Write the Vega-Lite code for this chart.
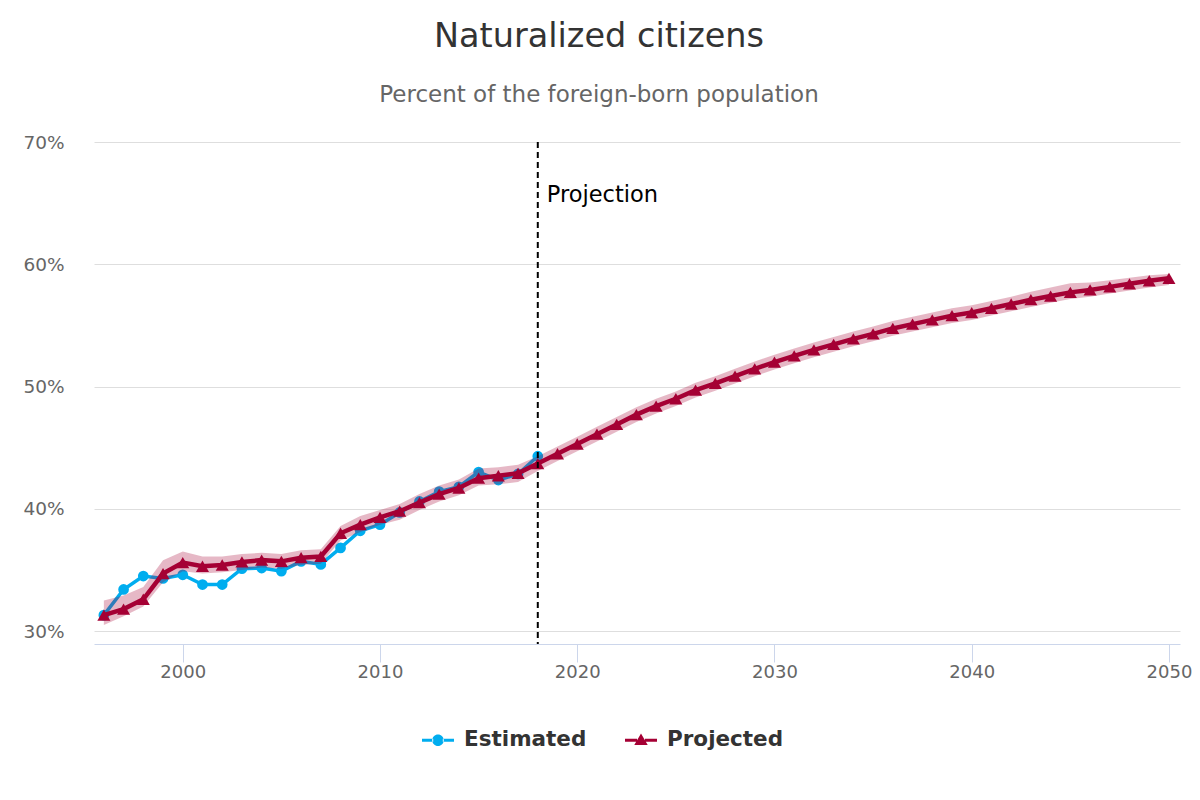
{
  "$schema": "https://vega.github.io/schema/vega-lite/v6.json",
  "width": 1086,
  "height": 502,
  "autosize": {"type": "none"},
  "padding": {"top": 142, "left": 94, "right": 20, "bottom": 156},
  "background": "white",
  "title": {
    "text": "Naturalized citizens",
    "subtitle": "Percent of the foreign-born population",
    "anchor": "middle",
    "dx": -38,
    "font": "DejaVu Sans",
    "fontSize": 33.5,
    "fontWeight": "normal",
    "color": "#333333",
    "subtitleFont": "DejaVu Sans",
    "subtitleFontSize": 23,
    "subtitleColor": "#666666",
    "subtitlePadding": 30,
    "offset": 25
  },
  "config": {
    "view": {"stroke": null},
    "font": "DejaVu Sans"
  },
  "datasets": {
    "main": [
      {"year": 1996, "series": "Estimated", "value": 31.3},
      {"year": 1997, "series": "Estimated", "value": 33.4},
      {"year": 1998, "series": "Estimated", "value": 34.5},
      {"year": 1999, "series": "Estimated", "value": 34.3},
      {"year": 2000, "series": "Estimated", "value": 34.6},
      {"year": 2001, "series": "Estimated", "value": 33.8},
      {"year": 2002, "series": "Estimated", "value": 33.8},
      {"year": 2003, "series": "Estimated", "value": 35.1},
      {"year": 2004, "series": "Estimated", "value": 35.15},
      {"year": 2005, "series": "Estimated", "value": 34.9},
      {"year": 2006, "series": "Estimated", "value": 35.7},
      {"year": 2007, "series": "Estimated", "value": 35.45},
      {"year": 2008, "series": "Estimated", "value": 36.8},
      {"year": 2009, "series": "Estimated", "value": 38.2},
      {"year": 2010, "series": "Estimated", "value": 38.7},
      {"year": 2011, "series": "Estimated", "value": 39.7},
      {"year": 2012, "series": "Estimated", "value": 40.6},
      {"year": 2013, "series": "Estimated", "value": 41.4},
      {"year": 2014, "series": "Estimated", "value": 41.8},
      {"year": 2015, "series": "Estimated", "value": 43.0},
      {"year": 2016, "series": "Estimated", "value": 42.35},
      {"year": 2017, "series": "Estimated", "value": 42.85},
      {"year": 2018, "series": "Estimated", "value": 44.3},
      {"year": 1996, "series": "Projected", "value": 31.3},
      {"year": 1997, "series": "Projected", "value": 31.8},
      {"year": 1998, "series": "Projected", "value": 32.6},
      {"year": 1999, "series": "Projected", "value": 34.7},
      {"year": 2000, "series": "Projected", "value": 35.6},
      {"year": 2001, "series": "Projected", "value": 35.3},
      {"year": 2002, "series": "Projected", "value": 35.4},
      {"year": 2003, "series": "Projected", "value": 35.65},
      {"year": 2004, "series": "Projected", "value": 35.8},
      {"year": 2005, "series": "Projected", "value": 35.7},
      {"year": 2006, "series": "Projected", "value": 36.0},
      {"year": 2007, "series": "Projected", "value": 36.1},
      {"year": 2008, "series": "Projected", "value": 38.0},
      {"year": 2009, "series": "Projected", "value": 38.7},
      {"year": 2010, "series": "Projected", "value": 39.3},
      {"year": 2011, "series": "Projected", "value": 39.8},
      {"year": 2012, "series": "Projected", "value": 40.5},
      {"year": 2013, "series": "Projected", "value": 41.2},
      {"year": 2014, "series": "Projected", "value": 41.7},
      {"year": 2015, "series": "Projected", "value": 42.5},
      {"year": 2016, "series": "Projected", "value": 42.7},
      {"year": 2017, "series": "Projected", "value": 42.9},
      {"year": 2018, "series": "Projected", "value": 43.7},
      {"year": 2019, "series": "Projected", "value": 44.5},
      {"year": 2020, "series": "Projected", "value": 45.3},
      {"year": 2021, "series": "Projected", "value": 46.1},
      {"year": 2022, "series": "Projected", "value": 46.9},
      {"year": 2023, "series": "Projected", "value": 47.7},
      {"year": 2024, "series": "Projected", "value": 48.4},
      {"year": 2025, "series": "Projected", "value": 49.0},
      {"year": 2026, "series": "Projected", "value": 49.7},
      {"year": 2027, "series": "Projected", "value": 50.25},
      {"year": 2028, "series": "Projected", "value": 50.85},
      {"year": 2029, "series": "Projected", "value": 51.45},
      {"year": 2030, "series": "Projected", "value": 52.0},
      {"year": 2031, "series": "Projected", "value": 52.5},
      {"year": 2032, "series": "Projected", "value": 53.0},
      {"year": 2033, "series": "Projected", "value": 53.45},
      {"year": 2034, "series": "Projected", "value": 53.9},
      {"year": 2035, "series": "Projected", "value": 54.3},
      {"year": 2036, "series": "Projected", "value": 54.75},
      {"year": 2037, "series": "Projected", "value": 55.1},
      {"year": 2038, "series": "Projected", "value": 55.45},
      {"year": 2039, "series": "Projected", "value": 55.8},
      {"year": 2040, "series": "Projected", "value": 56.05},
      {"year": 2041, "series": "Projected", "value": 56.4},
      {"year": 2042, "series": "Projected", "value": 56.75},
      {"year": 2043, "series": "Projected", "value": 57.1},
      {"year": 2044, "series": "Projected", "value": 57.4},
      {"year": 2045, "series": "Projected", "value": 57.7},
      {"year": 2046, "series": "Projected", "value": 57.9},
      {"year": 2047, "series": "Projected", "value": 58.15},
      {"year": 2048, "series": "Projected", "value": 58.4},
      {"year": 2049, "series": "Projected", "value": 58.65},
      {"year": 2050, "series": "Projected", "value": 58.85}
    ],
    "band": [
      {"year": 1996, "lo": 30.5, "hi": 32.5},
      {"year": 1997, "lo": 31.2, "hi": 32.9},
      {"year": 1998, "lo": 32.0, "hi": 33.6},
      {"year": 1999, "lo": 34.0, "hi": 35.8},
      {"year": 2000, "lo": 34.9, "hi": 36.5},
      {"year": 2001, "lo": 34.7, "hi": 36.1},
      {"year": 2002, "lo": 34.8, "hi": 36.1},
      {"year": 2003, "lo": 35.0, "hi": 36.3},
      {"year": 2004, "lo": 35.2, "hi": 36.4},
      {"year": 2005, "lo": 35.1, "hi": 36.3},
      {"year": 2006, "lo": 35.4, "hi": 36.6},
      {"year": 2007, "lo": 35.5, "hi": 36.7},
      {"year": 2008, "lo": 37.4, "hi": 38.6},
      {"year": 2009, "lo": 38.1, "hi": 39.4},
      {"year": 2010, "lo": 38.7, "hi": 39.9},
      {"year": 2011, "lo": 39.1, "hi": 40.4},
      {"year": 2012, "lo": 39.9, "hi": 41.2},
      {"year": 2013, "lo": 40.6, "hi": 41.9},
      {"year": 2014, "lo": 41.1, "hi": 42.4},
      {"year": 2015, "lo": 41.9, "hi": 43.3},
      {"year": 2016, "lo": 42.0, "hi": 43.4},
      {"year": 2017, "lo": 42.2, "hi": 43.6},
      {"year": 2018, "lo": 43.1, "hi": 44.3},
      {"year": 2019, "lo": 43.9, "hi": 45.1},
      {"year": 2020, "lo": 44.7, "hi": 45.9},
      {"year": 2021, "lo": 45.5, "hi": 46.7},
      {"year": 2022, "lo": 46.3, "hi": 47.5},
      {"year": 2023, "lo": 47.1, "hi": 48.3},
      {"year": 2024, "lo": 47.8, "hi": 49.0},
      {"year": 2025, "lo": 48.4, "hi": 49.6},
      {"year": 2026, "lo": 49.1, "hi": 50.3},
      {"year": 2027, "lo": 49.65, "hi": 50.85},
      {"year": 2028, "lo": 50.25, "hi": 51.45},
      {"year": 2029, "lo": 50.85, "hi": 52.05},
      {"year": 2030, "lo": 51.4, "hi": 52.6},
      {"year": 2031, "lo": 51.9, "hi": 53.1},
      {"year": 2032, "lo": 52.4, "hi": 53.6},
      {"year": 2033, "lo": 52.85, "hi": 54.05},
      {"year": 2034, "lo": 53.3, "hi": 54.5},
      {"year": 2035, "lo": 53.7, "hi": 54.9},
      {"year": 2036, "lo": 54.15, "hi": 55.35},
      {"year": 2037, "lo": 54.5, "hi": 55.7},
      {"year": 2038, "lo": 54.85, "hi": 56.05},
      {"year": 2039, "lo": 55.2, "hi": 56.4},
      {"year": 2040, "lo": 55.45, "hi": 56.65},
      {"year": 2041, "lo": 55.8, "hi": 57.0},
      {"year": 2042, "lo": 56.15, "hi": 57.35},
      {"year": 2043, "lo": 56.5, "hi": 57.75},
      {"year": 2044, "lo": 56.85, "hi": 58.1},
      {"year": 2045, "lo": 57.15, "hi": 58.45},
      {"year": 2046, "lo": 57.35, "hi": 58.5},
      {"year": 2047, "lo": 57.6, "hi": 58.7},
      {"year": 2048, "lo": 57.85, "hi": 58.9},
      {"year": 2049, "lo": 58.1, "hi": 59.1},
      {"year": 2050, "lo": 58.3, "hi": 59.2}
    ],
    "note": [
      {"year": 2018, "value": 65.7, "label": "Projection"}
    ]
  },
  "encoding": {
    "x": {
      "field": "year",
      "type": "quantitative",
      "scale": {"domain": [1995.5, 2050.56], "nice": false, "zero": false},
      "axis": {
        "title": null,
        "values": [2000, 2010, 2020, 2030, 2040, 2050],
        "format": "d",
        "grid": false,
        "domainColor": "#ccd6eb",
        "domainWidth": 1,
        "tickColor": "#ccd6eb",
        "tickSize": 18,
        "tickWidth": 1,
        "labelPadding": 1,
        "labelFont": "DejaVu Sans",
        "labelFontSize": 18,
        "labelColor": "#666666"
      }
    }
  },
  "layer": [
    {
      "data": {"name": "main"},
      "transform": [{"filter": "datum.series === 'Estimated'"}],
      "mark": {"type": "line", "strokeWidth": 3.5},
      "encoding": {
        "y": {
          "field": "value",
          "type": "quantitative",
          "scale": {"domain": [28.94, 70], "nice": false, "zero": false},
          "axis": {
            "title": null,
            "values": [30, 40, 50, 60, 70],
            "labelExpr": "datum.value + '%'",
            "domain": false,
            "ticks": false,
            "grid": true,
            "gridColor": "#dedede",
            "gridWidth": 1,
            "labelPadding": 30,
            "labelFont": "DejaVu Sans",
            "labelFontSize": 18.5,
            "labelColor": "#666666"
          }
        },
        "color": {
          "field": "series",
          "type": "nominal",
          "scale": {"domain": ["Estimated", "Projected"], "range": ["#00adef", "#a50034"]},
          "legend": {
            "title": null,
            "orient": "none",
            "legendX": 328,
            "legendY": 582,
            "direction": "horizontal",
            "labelFont": "DejaVu Sans",
            "labelFontSize": 21.5,
            "labelFontWeight": "bold",
            "labelColor": "#333333",
            "labelOffset": 10,
            "columnPadding": 38,
            "symbolSize": 1024,
            "encode": {
              "symbols": {
                "update": {
                  "shape": {"signal": "datum.value === 'Estimated' ? 'M-1,-0.1H-0.3V0.1H-1Z M0.3,-0.1H1V0.1H0.3Z M-0.36,0A0.36,0.36 0 1,0 0.36,0A0.36,0.36 0 1,0 -0.36,0Z' : 'M-1,-0.1H-0.25V0.1H-1Z M0.25,-0.1H1V0.1H0.25Z M0,-0.42L0.42,0.3L-0.42,0.3Z'"},
                  "fill": {"signal": "datum.value === 'Estimated' ? '#00adef' : '#a50034'"},
                  "stroke": {"value": "transparent"},
                  "strokeWidth": {"value": 0},
                  "opacity": {"value": 1},
                  "fillOpacity": {"value": 1}
                }
              }
            }
          }
        }
      }
    },
    {
      "data": {"name": "main"},
      "transform": [{"filter": "datum.series === 'Estimated'"}],
      "mark": {"type": "point", "shape": "circle", "filled": true, "size": 115, "opacity": 1},
      "encoding": {
        "y": {"field": "value", "type": "quantitative"},
        "color": {"field": "series", "type": "nominal"}
      }
    },
    {
      "data": {"name": "band"},
      "mark": {"type": "area", "color": "#a50034", "opacity": 0.28},
      "encoding": {
        "y": {"field": "lo", "type": "quantitative"},
        "y2": {"field": "hi"}
      }
    },
    {
      "data": {"name": "main"},
      "transform": [{"filter": "datum.series === 'Projected'"}],
      "mark": {"type": "line", "strokeWidth": 4.5},
      "encoding": {
        "y": {"field": "value", "type": "quantitative"},
        "color": {"field": "series", "type": "nominal"}
      }
    },
    {
      "data": {"name": "main"},
      "transform": [{"filter": "datum.series === 'Projected'"}],
      "mark": {"type": "point", "shape": "triangle-up", "filled": true, "size": 170, "opacity": 1},
      "encoding": {
        "y": {"field": "value", "type": "quantitative"},
        "color": {"field": "series", "type": "nominal"}
      }
    },
    {
      "data": {"name": "note"},
      "mark": {"type": "rule", "color": "#000000", "strokeWidth": 2, "strokeDash": [6, 4]},
      "encoding": {}
    },
    {
      "data": {"name": "note"},
      "mark": {"type": "text", "align": "left", "baseline": "middle", "dx": 9, "font": "DejaVu Sans", "fontSize": 22.5, "color": "#000000"},
      "encoding": {
        "y": {"field": "value", "type": "quantitative"},
        "text": {"field": "label"}
      }
    }
  ]
}
